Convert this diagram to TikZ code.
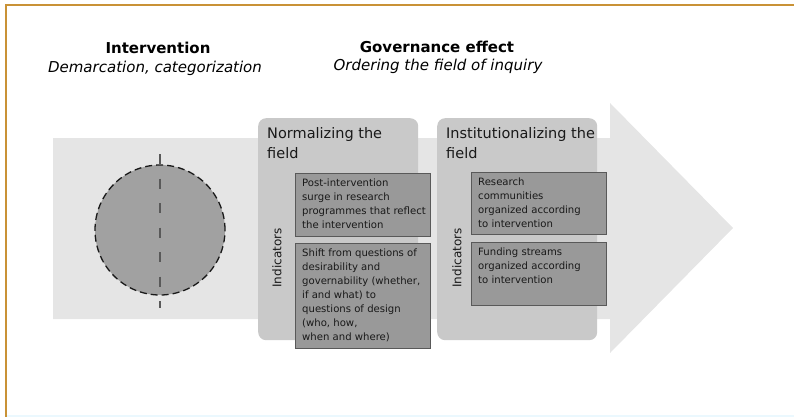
\documentclass[tikz,border=0pt]{standalone}
\usepackage{fontspec}
\setmainfont{DejaVu Sans}
\usepackage{tikz}
\definecolor{frameorange}{HTML}{C99236}

\begin{document}
\begin{tikzpicture}
[x=1pt,y=-1pt,
  head node/.style={anchor=base,font=\fontsize{15}{18}\selectfont\bfseries},
  sub node/.style={anchor=base,font=\fontsize{15}{18}\selectfont\itshape},
  panel node/.style={anchor=north west,fill=black!21,rounded corners=8pt,inner sep=0pt,minimum width=160pt,minimum height=222pt},
  panel title/.style={anchor=north west,align=left,inner sep=0pt,xshift=9pt,yshift=-9pt,font=\fontsize{14.5}{20}\selectfont,text=black!90},
  item box/.style={anchor=north west,fill=black!40,draw=black!65,line width=0.8pt,inner sep=0pt,minimum width=135pt},
  item text/.style={anchor=north west,align=left,inner sep=0pt,xshift=7pt,yshift=-6pt,font=\fontsize{10.1}{14}\selectfont,text=black!90},
  ind node/.style={rotate=90,inner sep=0pt,font=\fontsize{12}{14}\selectfont,text=black!90}]
  \useasboundingbox (0,0) rectangle (794,417);
  \draw[frameorange,line width=2pt] (794,5.5) -- (5.5,5.5) -- (5.5,417);
  \draw[cyan!8,line width=1.5pt] (7,416) -- (794,416);
  % headings
  \node[head node] (int) at (158,54) {Intervention};
  \node[sub node] (dem) at (155,73) {Demarcation, categorization};
  \node[head node] (gov) at (437,53) {Governance effect};
  \node[sub node] (ord) at (438,71) {Ordering the field of inquiry};
  % big arrow
  \fill[black!10] (53,138) -- (610,138) -- (610,103) -- (733,228) -- (610,353) -- (610,319) -- (53,319) -- cycle;
  % demarcated field
  \node[circle,minimum size=130pt,inner sep=0pt,fill=black!37,draw=black!90,line width=1.3pt,dash pattern=on 7pt off 4pt] (ci) at (160,230) {};
  \coordinate (ct) at (160,154);
  \coordinate (cb) at (160,308);
  \draw[black!65,line width=1.3pt,dash pattern=on 10pt off 14.5pt] (ct) -- (cb);
  % normalizing
  \node[panel node] (p1) at (258,118) {};
  \node[panel title] (t1) at (p1.north west) {Normalizing the\\field};
  \node[ind node] (i1) at (277,258) {Indicators};
  \node[item box,minimum height=63pt] (b11) at (295,173) {};
  \node[item text] (x11) at (b11.north west) {Post-intervention\\surge in research\\programmes that reflect\\the intervention};
  \node[item box,minimum height=105pt] (b12) at (295,243) {};
  \node[item text] (x12) at (b12.north west) {Shift from questions of\\desirability and\\governability (whether,\\if and what) to\\questions of design\\(who, how,\\when and where)};
  % institutionalizing
  \node[panel node] (p2) at (437,118) {};
  \node[panel title] (t2) at (p2.north west) {Institutionalizing the\\field};
  \node[ind node] (i2) at (457,258) {Indicators};
  \node[item box,minimum height=62pt] (b21) at (471,172) {};
  \node[item text] (x21) at (b21.north west) {Research\\communities\\organized according\\to intervention};
  \node[item box,minimum height=63pt] (b22) at (471,242) {};
  \node[item text] (x22) at (b22.north west) {Funding streams\\organized according\\to intervention};
\end{tikzpicture}
\end{document}
